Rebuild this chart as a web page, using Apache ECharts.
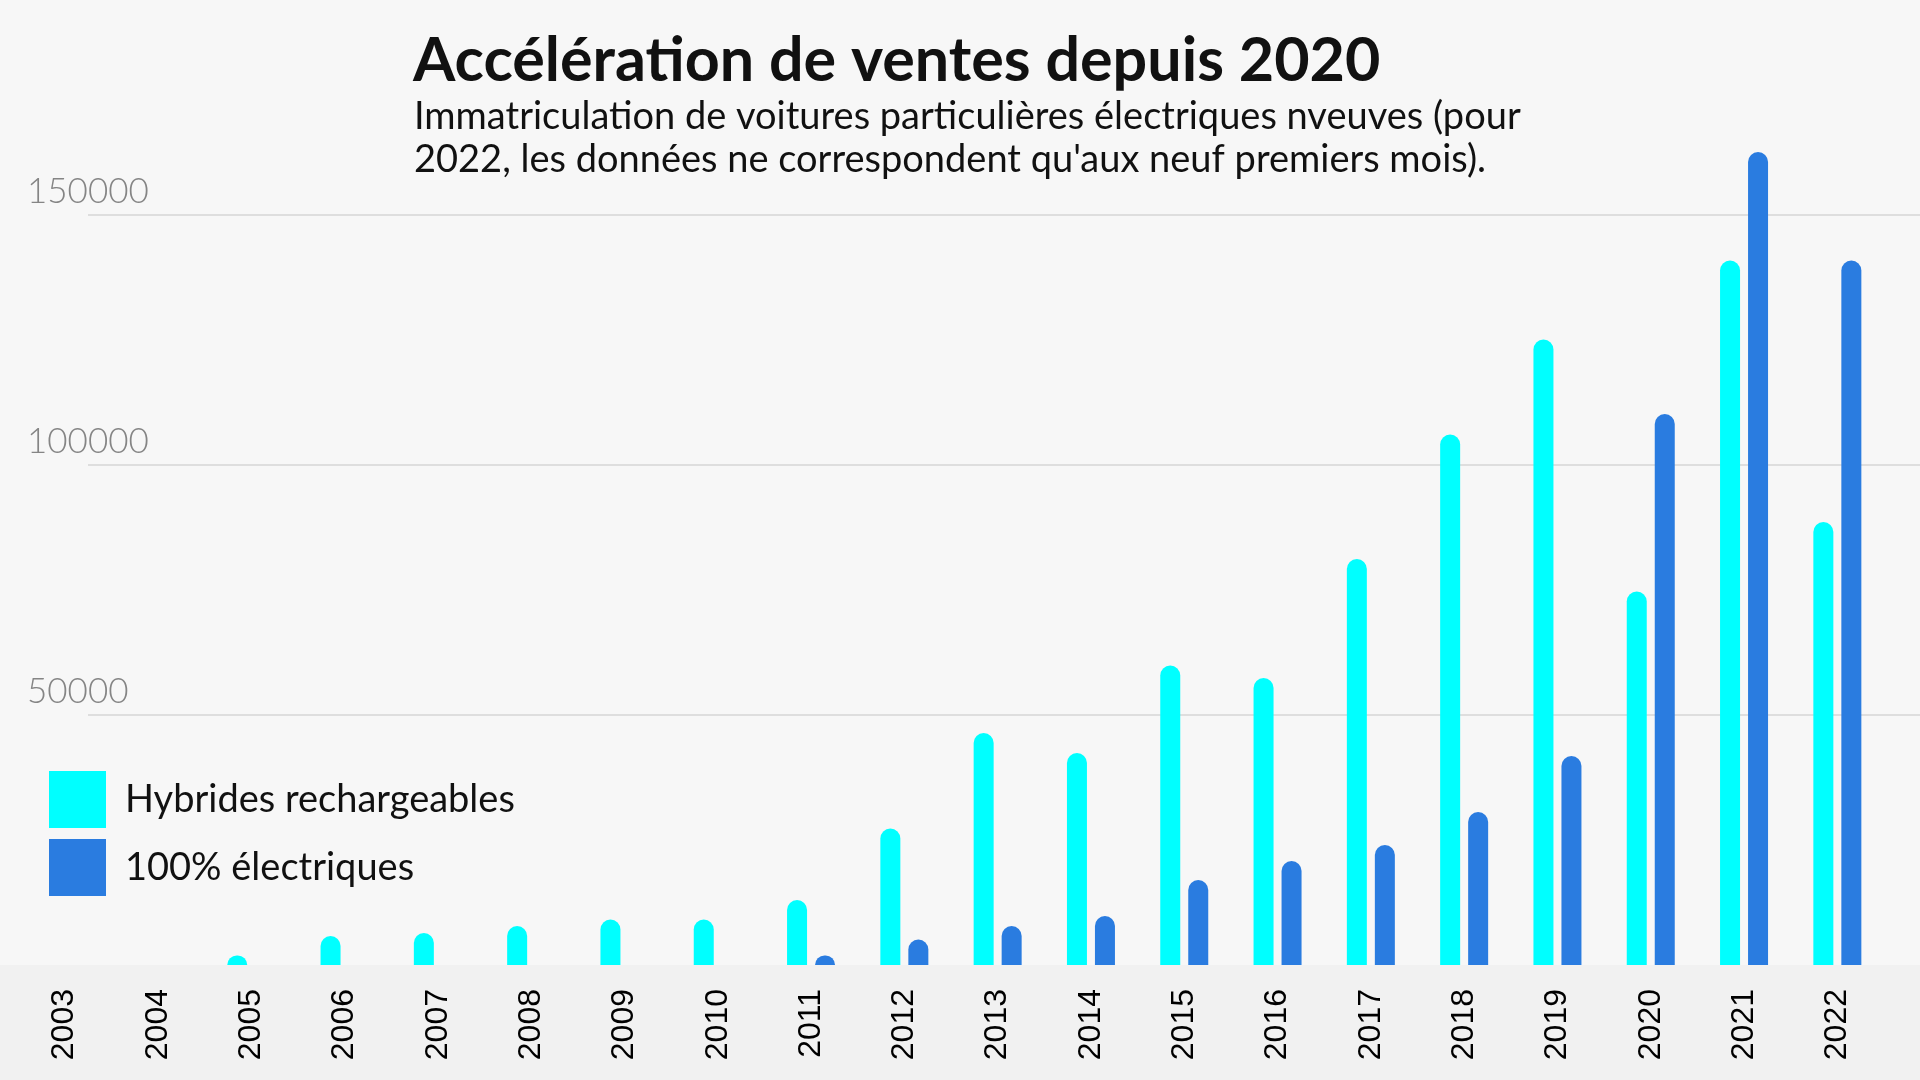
<!DOCTYPE html>
<html>
<head>
<meta charset="utf-8">
<title>Accélération de ventes depuis 2020</title>
<script src="https://cdn.jsdelivr.net/npm/echarts@6/dist/echarts.min.js"></script>
<style>
  html, body { margin: 0; padding: 0; background: #f7f7f7; }
  #chart { width: 1920px; height: 1080px; }
</style>
</head>
<body>
<div id="chart"></div>
<script>
// données (immatriculations par an)
var annees = ['2003', '2004', '2005', '2006', '2007', '2008', '2009', '2010', '2011', '2012',
              '2013', '2014', '2015', '2016', '2017', '2018', '2019', '2020', '2021', '2022'];
var hybrides = [null, null, 1900, 5800, 6400, 7800, 9100, 9100, 13000, 27300,
                46400, 42400, 59900, 57400, 81200, 106100, 125100, 74700, 140900, 88600];
var electriques = [null, null, null, null, null, null, null, null, 1900, 5100,
                   7800, 9800, 17000, 20800, 24000, 30600, 41800, 110200, 162600, 140900];
var graduations = [50000, 100000, 150000];

var titre = 'Accélération de ventes depuis 2020';
var sousTitre = 'Immatriculation de voitures particulières électriques nveuves (pour\n2022, les données ne correspondent qu\'aux neuf premiers mois).';

var yMax = 175000;

var chart = echarts.init(document.getElementById('chart'));

var option = {
    backgroundColor: '#f7f7f7',
    animation: false,
    graphic: [{
        type: 'rect',
        left: 0,
        bottom: 0,
        z: -10,
        shape: { width: 1920, height: 115 },
        style: { fill: '#f1f1f1' }
    }],
    title: [{
        text: titre,
        left: 408,
        top: 26,
        textStyle: { fontFamily: 'Lato', fontWeight: 'bold', fontSize: 61, color: '#111' }
    }, {
        text: sousTitre,
        left: 409,
        top: 90,
        textStyle: { fontFamily: 'Lato', fontWeight: 'normal', fontSize: 38, lineHeight: 43, color: '#111' }
    }],
    legend: {
        orient: 'vertical',
        left: 44,
        top: 766,
        itemWidth: 57,
        itemHeight: 57,
        itemGap: 11,
        icon: 'rect',
        data: ['Hybrides rechargeables', '100% électriques'],
        textStyle: { fontFamily: 'Lato', fontSize: 38, color: '#111', padding: [0, 0, 0, 14] }
    },
    grid: [
        { left: 18, right: 36, top: 90, bottom: 115 },
        { left: 88, right: 0, top: 90, bottom: 115 }
    ],
    xAxis: [{
        type: 'category',
        gridIndex: 0,
        data: annees,
        axisLine: { show: false },
        axisTick: { show: false },
        axisLabel: {
            rotate: 90,
            margin: 24,
            fontFamily: 'Liberation Sans',
            fontSize: 32,
            color: '#000',
            padding: [0, 0, 14, 0]
        }
    }, {
        type: 'value',
        gridIndex: 1,
        min: 0,
        max: 1,
        show: false
    }],
    yAxis: [{
        type: 'value',
        gridIndex: 0,
        min: 0,
        max: yMax,
        interval: 50000,
        show: false
    }, {
        type: 'value',
        gridIndex: 1,
        min: 0,
        max: yMax,
        interval: 50000,
        axisLine: { show: false },
        axisTick: { show: false },
        splitLine: {
            show: true,
            showMinLine: false,
            showMaxLine: false,
            lineStyle: { color: '#dedede', width: 2 }
        },
        axisLabel: {
            align: 'left',
            verticalAlign: 'bottom',
            margin: 61,
            fontFamily: 'Lato',
            fontWeight: 300,
            fontSize: 35,
            lineHeight: 35,
            padding: [0, 0, 6, 0],
            color: '#858585',
            formatter: function (v) {
                return graduations.indexOf(v) >= 0 ? String(v) : '';
            }
        }
    }],
    series: [{
        name: 'Hybrides rechargeables',
        type: 'bar',
        xAxisIndex: 0,
        yAxisIndex: 0,
        data: hybrides,
        barWidth: 20,
        barGap: '40%',
        itemStyle: { color: '#00ffff', borderRadius: [10, 10, 0, 0] }
    }, {
        name: '100% électriques',
        type: 'bar',
        xAxisIndex: 0,
        yAxisIndex: 0,
        data: electriques,
        barWidth: 20,
        barGap: '40%',
        itemStyle: { color: '#2a7ce0', borderRadius: [10, 10, 0, 0] }
    }]
};

chart.setOption(option);
window.onresize = chart.resize;
</script>
</body>
</html>
